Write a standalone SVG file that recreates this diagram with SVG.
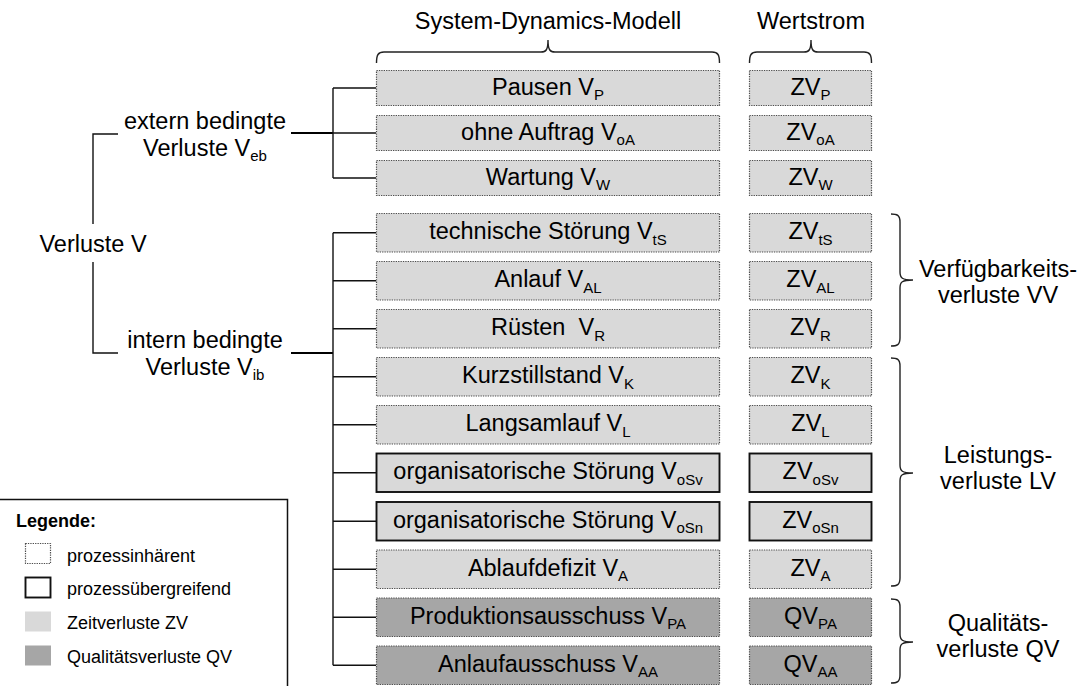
<svg xmlns="http://www.w3.org/2000/svg" width="1086" height="686" viewBox="0 0 1086 686">
  <style>
    text { font-family: "Liberation Sans", Arial, sans-serif; fill: #000; }
    .t { font-size: 23.5px; text-anchor: middle; }
    .s { font-size: 15px; }
    .lg { font-size: 18px; }
    .box { fill: #d9d9d9; }
    .dark { fill: #a6a6a6; }
    .dot { stroke: #4d4d4d; stroke-width: 1.2; stroke-dasharray: 1.3 1.1; }
    .solid { stroke: #111; stroke-width: 1.9; }
    .ln { fill: none; stroke: #111; stroke-width: 1.4; }
    .lnb { fill: none; stroke: #000; stroke-width: 2; }
    .br { fill: none; stroke: #222; stroke-width: 1.4; }
  </style>

  <!-- column headings with braces -->
  <g id="head-sd">
    <text class="t" x="548" y="29">System-Dynamics-Modell</text>
    <path class="br" d="M376.5,63 C376.5,55 378,52 384,52 L541,52 C546,52 548,50 548,40 C548,50 550,52 555,52 L712,52 C718,52 719.5,55 719.5,63"/>
  </g>
  <g id="head-ws">
    <text class="t" x="811" y="29">Wertstrom</text>
    <path class="br" d="M749.5,63 C749.5,55 751,52 757,52 L804,52 C809,52 811,50 811,40 C811,50 813,52 818,52 L864,52 C870,52 871.5,55 871.5,63"/>
  </g>

  <!-- connectors -->
  <g id="connectors">
    <!-- root bracket -->
    <path class="ln" d="M118,134 H93 V224 M93,262 V353 H118"/>
    <!-- external branch -->
    <path class="lnb" d="M291,133 H333"/>
    <path class="ln" d="M333,88 V178 M333,88 H376 M333,133 H376 M333,178 H376"/>
    <!-- internal branch -->
    <path class="lnb" d="M291,353 H333"/>
    <path class="ln" d="M333,232.75 V665.25 M333,232.75 H376 M333,280.75 H376 M333,328.75 H376 M333,376.75 H376 M333,424.75 H376 M333,472.75 H376 M333,521.25 H376 M333,569.25 H376 M333,617.25 H376 M333,665.25 H376"/>
  </g>

  <!-- tree labels -->
  <g id="root">
    <text class="t" x="93" y="251.5">Verluste V</text>
  </g>
  <g id="extern">
    <text class="t" x="205" y="128.5">extern bedingte</text>
    <text class="t" x="205" y="155.5">Verluste V<tspan class="s" dy="5.5">eb</tspan></text>
  </g>
  <g id="intern">
    <text class="t" x="205" y="347.5">intern bedingte</text>
    <text class="t" x="205" y="374.5">Verluste V<tspan class="s" dy="5.5">ib</tspan></text>
  </g>

  <!-- loss rows: model column and value stream column -->
  <g id="row-p">
    <rect class="box dot" x="376.5" y="70.5" width="343" height="35"/>
    <text class="t" x="548" y="94.5">Pausen V<tspan class="s" dy="5.5">P</tspan></text>
    <rect class="box dot" x="749.5" y="70.5" width="122" height="35"/>
    <text class="t" x="810.5" y="94.5">ZV<tspan class="s" dy="5.5">P</tspan></text>
  </g>
  <g id="row-oa">
    <rect class="box dot" x="376.5" y="115.5" width="343" height="35"/>
    <text class="t" x="548" y="139.5">ohne Auftrag V<tspan class="s" dy="5.5">oA</tspan></text>
    <rect class="box dot" x="749.5" y="115.5" width="122" height="35"/>
    <text class="t" x="810.5" y="139.5">ZV<tspan class="s" dy="5.5">oA</tspan></text>
  </g>
  <g id="row-w">
    <rect class="box dot" x="376.5" y="160.5" width="343" height="35"/>
    <text class="t" x="548" y="184.5">Wartung V<tspan class="s" dy="5.5">W</tspan></text>
    <rect class="box dot" x="749.5" y="160.5" width="122" height="35"/>
    <text class="t" x="810.5" y="184.5">ZV<tspan class="s" dy="5.5">W</tspan></text>
  </g>
  <g id="row-ts">
    <rect class="box dot" x="376.5" y="213.5" width="343" height="38.5"/>
    <text class="t" x="548" y="239.25">technische Störung V<tspan class="s" dy="5.5">tS</tspan></text>
    <rect class="box dot" x="749.5" y="213.5" width="122" height="38.5"/>
    <text class="t" x="810.5" y="239.25">ZV<tspan class="s" dy="5.5">tS</tspan></text>
  </g>
  <g id="row-al">
    <rect class="box dot" x="376.5" y="261.5" width="343" height="38.5"/>
    <text class="t" x="548" y="287.25">Anlauf V<tspan class="s" dy="5.5">AL</tspan></text>
    <rect class="box dot" x="749.5" y="261.5" width="122" height="38.5"/>
    <text class="t" x="810.5" y="287.25">ZV<tspan class="s" dy="5.5">AL</tspan></text>
  </g>
  <g id="row-r">
    <rect class="box dot" x="376.5" y="309.5" width="343" height="38.5"/>
    <text class="t" x="548" y="335.25" style="white-space:pre">Rüsten  V<tspan class="s" dy="5.5">R</tspan></text>
    <rect class="box dot" x="749.5" y="309.5" width="122" height="38.5"/>
    <text class="t" x="810.5" y="335.25">ZV<tspan class="s" dy="5.5">R</tspan></text>
  </g>
  <g id="row-k">
    <rect class="box dot" x="376.5" y="357.5" width="343" height="38.5"/>
    <text class="t" x="548" y="383.25">Kurzstillstand V<tspan class="s" dy="5.5">K</tspan></text>
    <rect class="box dot" x="749.5" y="357.5" width="122" height="38.5"/>
    <text class="t" x="810.5" y="383.25">ZV<tspan class="s" dy="5.5">K</tspan></text>
  </g>
  <g id="row-l">
    <rect class="box dot" x="376.5" y="405.5" width="343" height="38.5"/>
    <text class="t" x="548" y="431.25">Langsamlauf V<tspan class="s" dy="5.5">L</tspan></text>
    <rect class="box dot" x="749.5" y="405.5" width="122" height="38.5"/>
    <text class="t" x="810.5" y="431.25">ZV<tspan class="s" dy="5.5">L</tspan></text>
  </g>
  <g id="row-osv">
    <rect class="box solid" x="376.5" y="453.5" width="343" height="38.5"/>
    <text class="t" x="548" y="479.25">organisatorische Störung V<tspan class="s" dy="5.5">oSv</tspan></text>
    <rect class="box solid" x="749.5" y="453.5" width="122" height="38.5"/>
    <text class="t" x="810.5" y="479.25">ZV<tspan class="s" dy="5.5">oSv</tspan></text>
  </g>
  <g id="row-osn">
    <rect class="box solid" x="376.5" y="502" width="343" height="38.5"/>
    <text class="t" x="548" y="527.75">organisatorische Störung V<tspan class="s" dy="5.5">oSn</tspan></text>
    <rect class="box solid" x="749.5" y="502" width="122" height="38.5"/>
    <text class="t" x="810.5" y="527.75">ZV<tspan class="s" dy="5.5">oSn</tspan></text>
  </g>
  <g id="row-a">
    <rect class="box dot" x="376.5" y="550" width="343" height="38.5"/>
    <text class="t" x="548" y="575.75">Ablaufdefizit V<tspan class="s" dy="5.5">A</tspan></text>
    <rect class="box dot" x="749.5" y="550" width="122" height="38.5"/>
    <text class="t" x="810.5" y="575.75">ZV<tspan class="s" dy="5.5">A</tspan></text>
  </g>
  <g id="row-pa">
    <rect class="dark dot" x="376.5" y="598" width="343" height="38.5"/>
    <text class="t" x="548" y="623.75">Produktionsausschuss V<tspan class="s" dy="5.5">PA</tspan></text>
    <rect class="dark dot" x="749.5" y="598" width="122" height="38.5"/>
    <text class="t" x="810.5" y="623.75">QV<tspan class="s" dy="5.5">PA</tspan></text>
  </g>
  <g id="row-aa">
    <rect class="dark dot" x="376.5" y="646" width="343" height="38.5"/>
    <text class="t" x="548" y="671.75">Anlaufausschuss V<tspan class="s" dy="5.5">AA</tspan></text>
    <rect class="dark dot" x="749.5" y="646" width="122" height="38.5"/>
    <text class="t" x="810.5" y="671.75">QV<tspan class="s" dy="5.5">AA</tspan></text>
  </g>

  <!-- category braces on the right -->
  <g id="cat-vv">
    <path class="br" d="M891,214 C897,214 900,215 900,222 L900,272 C900,278 902,280 913,280 C902,280 900,282 900,288 L900,338 C900,345 897,346 891,346"/>
    <text class="t" x="998" y="277">Verfügbarkeits-</text>
    <text class="t" x="998" y="303">verluste VV</text>
  </g>
  <g id="cat-lv">
    <path class="br" d="M891,358 C897,358 900,359 900,366 L900,465 C900,471 902,473 913,473 C902,473 900,475 900,481 L900,578 C900,585 897,586 891,586"/>
    <text class="t" x="998" y="463">Leistungs-</text>
    <text class="t" x="998" y="489">verluste LV</text>
  </g>
  <g id="cat-qv">
    <path class="br" d="M891,599 C897,599 900,600 900,607 L900,634 C900,640 902,642 913,642 C902,642 900,644 900,650 L900,675 C900,682 897,683 891,683"/>
    <text class="t" x="998" y="631">Qualitäts-</text>
    <text class="t" x="998" y="657">verluste QV</text>
  </g>

  <!-- legend -->
  <g id="legend">
    <path d="M0,499.5 H287.5 V686" fill="none" stroke="#111" stroke-width="1.5"/>
    <text class="lg" x="16" y="527" font-weight="bold">Legende:</text>
    <rect x="25.5" y="543.5" width="25" height="20" fill="#fff" class="dot"/>
    <text class="lg" x="67" y="561.5">prozessinhärent</text>
    <rect x="25.5" y="577.5" width="25" height="20" fill="#fff" class="solid"/>
    <text class="lg" x="67" y="595">prozessübergreifend</text>
    <rect x="25" y="611.5" width="26" height="20" fill="#d9d9d9"/>
    <text class="lg" x="67" y="629">Zeitverluste ZV</text>
    <rect x="25" y="645.5" width="26" height="20" fill="#a6a6a6"/>
    <text class="lg" x="67" y="663">Qualitätsverluste QV</text>
  </g>
</svg>
